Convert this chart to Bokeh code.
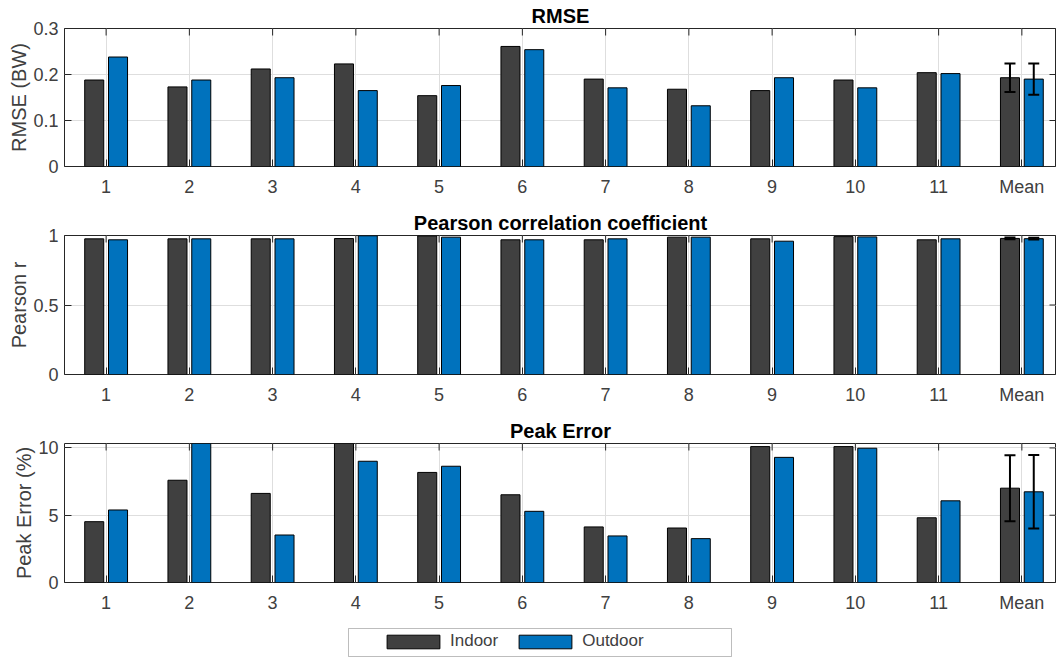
import numpy as np
from bokeh.plotting import figure
from bokeh.models import (Range1d, FixedTicker, Title, Whisker, TeeHead, BoxAnnotation,
                          ColumnDataSource, Legend, LegendItem)
from bokeh.layouts import column
from bokeh.embed import file_html
from bokeh.resources import INLINE

# ---------------- data ----------------
categories = ["1", "2", "3", "4", "5", "6", "7", "8", "9", "10", "11", "Mean"]
series_names = ["Indoor", "Outdoor"]

rmse_indoor = [0.188, 0.173, 0.212, 0.223, 0.154, 0.261, 0.190, 0.168, 0.165, 0.188, 0.204, 0.193]
rmse_outdoor = [0.238, 0.188, 0.193, 0.165, 0.176, 0.254, 0.171, 0.132, 0.193, 0.171, 0.202, 0.190]
rmse_err = [0.031, 0.034]          # error bars on the Mean group (indoor, outdoor)
rmse_ticks = [0, 0.1, 0.2, 0.3]
rmse_tick_labels = ["0", "0.1", "0.2", "0.3"]

pearson_indoor = [0.976, 0.976, 0.976, 0.978, 0.997, 0.969, 0.969, 0.988, 0.976, 0.992, 0.969, 0.979]
pearson_outdoor = [0.969, 0.976, 0.976, 0.998, 0.988, 0.969, 0.976, 0.988, 0.959, 0.990, 0.976, 0.977]
pearson_err = [0.006, 0.006]
pearson_ticks = [0, 0.5, 1]
pearson_tick_labels = ["0", "0.5", "1"]

peak_indoor = [4.52, 7.60, 6.62, 10.6, 8.18, 6.52, 4.13, 4.05, 10.1, 10.1, 4.81, 7.01]
peak_outdoor = [5.39, 10.6, 3.53, 9.01, 8.64, 5.29, 3.46, 3.26, 9.30, 9.98, 6.07, 6.74]
peak_err = [2.45, 2.73]
peak_ticks = [0, 5, 10]
peak_tick_labels = ["0", "5", "10"]

# ---------------- style ----------------
FONT = "Liberation Sans"
INDOOR_COLOR = "#404040"
OUTDOOR_COLOR = "#0072BD"
AXIS_COLOR = "#262626"
TEXT_COLOR = "#404040"
GRID_COLOR = "#dedede"
W = 1056
BORDER_L = 64
X_START, X_END = 0.5, 12.416
GROUP_W = 2.0 / 3.5
BAR_W = GROUP_W / 2 * 0.8
OFFSET = GROUP_W / 4

xs = np.arange(1, len(categories) + 1)
x_overrides = {int(x): c for x, c in zip(xs, categories)}


def make_panel(title, ylabel, indoor, outdoor, err, yticks, ytick_labels, ymax,
               height, top, bottom, title_standoff):
    p = figure(width=W, height=height,
               x_range=Range1d(X_START, X_END), y_range=Range1d(0, ymax),
               output_backend="svg", toolbar_location=None,
               min_border_left=BORDER_L, min_border_right=0,
               min_border_top=top, min_border_bottom=bottom)
    p.title = Title(text=title, align="center", offset=4, standoff=title_standoff,
                    text_font=FONT, text_font_size="20px", text_font_style="bold",
                    text_color="black")
    p.outline_line_color = AXIS_COLOR
    p.outline_line_width = 1
    p.background_fill_color = "white"

    p.xgrid.grid_line_color = GRID_COLOR
    p.ygrid.grid_line_color = GRID_COLOR

    src = ColumnDataSource(dict(xi=xs - OFFSET, xo=xs + OFFSET,
                                indoor=indoor, outdoor=outdoor))
    p.vbar(x="xi", top="indoor", width=BAR_W, source=src,
           fill_color=INDOOR_COLOR, line_color="black", line_width=1)
    p.vbar(x="xo", top="outdoor", width=BAR_W, source=src,
           fill_color=OUTDOOR_COLOR, line_color="black", line_width=1)

    # inward box ticks on top and right edges (half of each dash is clipped)
    p.scatter(x=list(xs), y=[ymax] * len(xs), marker="dash", angle=np.pi / 2,
              size=14, line_color=AXIS_COLOR, line_width=1)
    p.scatter(x=[X_END] * len(yticks), y=yticks, marker="dash",
              size=14, line_color=AXIS_COLOR, line_width=1)

    # error bars on the mean group (drawn over the bars)
    mi = len(categories) - 1
    esrc = ColumnDataSource(dict(
        base=[xs[mi] - OFFSET, xs[mi] + OFFSET],
        upper=[indoor[mi] + err[0], outdoor[mi] + err[1]],
        lower=[indoor[mi] - err[0], outdoor[mi] - err[1]]))
    wh = Whisker(source=esrc, base="base", upper="upper", lower="lower",
                 dimension="height", line_color="black", line_width=2,
                 level="overlay",
                 upper_head=TeeHead(size=11, line_color="black", line_width=2),
                 lower_head=TeeHead(size=11, line_color="black", line_width=2))
    p.add_layout(wh)

    # axes
    xa = p.xaxis[0]
    xa.ticker = FixedTicker(ticks=list(xs))
    xa.major_label_overrides = x_overrides
    ya = p.yaxis[0]
    ya.ticker = FixedTicker(ticks=yticks)
    ya.major_label_overrides = {t: l for t, l in zip(yticks, ytick_labels)}
    ya.axis_label = ylabel
    for ax in (xa, ya):
        ax.axis_line_color = None
        ax.major_tick_in = 7
        ax.major_tick_out = 0
        ax.minor_tick_line_color = None
        ax.major_tick_line_color = AXIS_COLOR
        ax.major_label_text_font = FONT
        ax.major_label_text_font_size = "18px"
        ax.major_label_text_color = TEXT_COLOR
    xa.major_label_standoff = 10
    ya.major_label_standoff = 6
    ya.axis_label_text_font = FONT
    ya.axis_label_text_font_size = "20px"
    ya.axis_label_text_font_style = "normal"
    ya.axis_label_text_color = TEXT_COLOR
    ya.axis_label_standoff = 0
    return p


p1 = make_panel("RMSE", "RMSE (BW)", rmse_indoor, rmse_outdoor, rmse_err,
                rmse_ticks, rmse_tick_labels, 0.3, 200, 27, 34, 4)
p2 = make_panel("Pearson correlation coefficient", "Pearson r", pearson_indoor,
                pearson_outdoor, pearson_err, pearson_ticks, pearson_tick_labels,
                1.0, 208, 35, 34, 4)
p3 = make_panel("Peak Error", "Peak Error (%)", peak_indoor, peak_outdoor,
                peak_err, peak_ticks, peak_tick_labels, 10.33, 214, 35, 40, 4)

# ---------------- legend strip ----------------
LH = 37
lf = figure(width=W, height=LH, x_range=Range1d(0, W - BORDER_L), y_range=Range1d(0, LH),
            output_backend="svg", toolbar_location=None,
            x_axis_type=None, y_axis_type=None,
            min_border_left=BORDER_L, min_border_right=0,
            min_border_top=0, min_border_bottom=0)
lf.outline_line_color = None
lf.grid.visible = False
# legend frame (page px: 348..731 wide, 628..656 tall)
lf.add_layout(BoxAnnotation(left=348 - BORDER_L, right=731 - BORDER_L,
                            bottom=3, top=31, fill_color="white", fill_alpha=1,
                            line_color=AXIS_COLOR, line_width=1, level="underlay"))
lsrc = ColumnDataSource(dict(x=list(xs), indoor=peak_indoor, outdoor=peak_outdoor))
r_in = lf.vbar(x="x", top="indoor", width=BAR_W, source=lsrc, visible=False,
               fill_color=INDOOR_COLOR, line_color="black", line_width=1)
r_out = lf.vbar(x="x", top="outdoor", width=BAR_W, source=lsrc, visible=False,
                fill_color=OUTDOOR_COLOR, line_color="black", line_width=1)
legend = Legend(items=[LegendItem(label=series_names[0], renderers=[r_in]),
                       LegendItem(label=series_names[1], renderers=[r_out])],
                orientation="horizontal", location=(380 - BORDER_L, 8),
                border_line_color=None, background_fill_alpha=0,
                inactive_fill_alpha=0,
                glyph_width=66, glyph_height=17, label_height=17,
                label_standoff=4, spacing=14, padding=0, margin=0,
                label_text_font=FONT, label_text_font_size="17px",
                label_text_color=TEXT_COLOR)
lf.add_layout(legend)

layout = column(p1, p2, p3, lf, spacing=0)
open("out.html", "w").write(file_html(layout, INLINE))
